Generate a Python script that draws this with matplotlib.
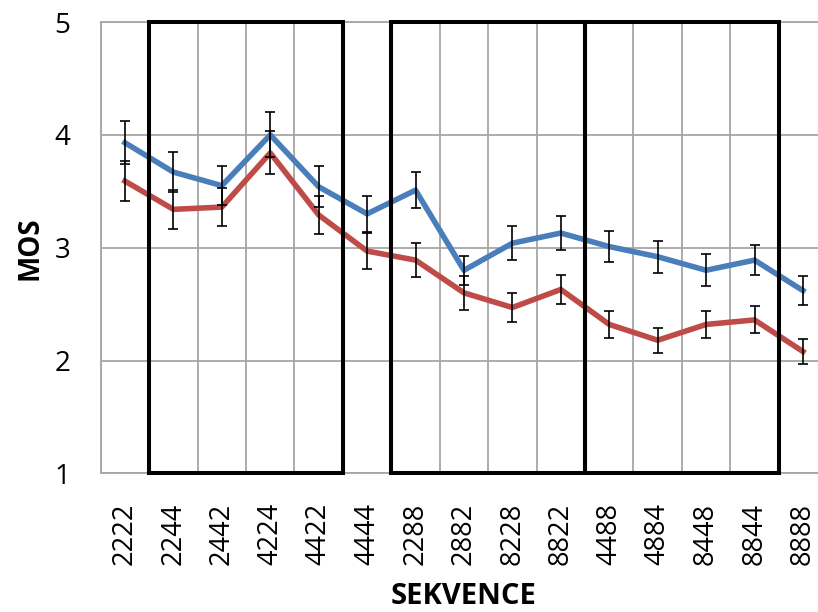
import numpy as np
import matplotlib.pyplot as plt

# sequences on the x axis
sekvence = ['2222', '2244', '2442', '4224', '4422', '4444', '2288', '2882',
            '8228', '8822', '4488', '4884', '8448', '8844', '8888']

# MOS values
mos_blue = [3.93, 3.67, 3.55, 4.00, 3.54, 3.30, 3.51, 2.80, 3.04, 3.13,
            3.01, 2.92, 2.80, 2.89, 2.62]
err_blue = [0.19, 0.18, 0.17, 0.20, 0.18, 0.16, 0.16, 0.13, 0.15, 0.15,
            0.14, 0.14, 0.14, 0.13, 0.13]
mos_red = [3.59, 3.34, 3.36, 3.84, 3.29, 2.97, 2.89, 2.60, 2.47, 2.63,
           2.32, 2.18, 2.32, 2.36, 2.08]
err_red = [0.18, 0.17, 0.17, 0.19, 0.17, 0.16, 0.15, 0.15, 0.13, 0.13,
           0.12, 0.11, 0.12, 0.12, 0.11]

# groups framed by black boxes (first, last category index)
boxes = [(1, 4), (6, 9), (10, 13)]

plt.rcParams['font.family'] = ['Open Sans', 'DejaVu Sans']

fig = plt.figure(figsize=(8.18, 6.12), dpi=100)
ax = fig.add_axes([0.1232, 0.2265, 0.888, 0.7375])

x = np.arange(len(sekvence))
blue = '#4A7EBB'
red = '#BE4B48'

ax.plot(x, mos_red, color=red, lw=4.0, zorder=3)
ax.plot(x, mos_blue, color=blue, lw=4.0, zorder=3)
ax.errorbar(x, mos_red, yerr=err_red, fmt='none', ecolor='black',
            elinewidth=1.2, capsize=3.8, capthick=1.2, zorder=4)
ax.errorbar(x, mos_blue, yerr=err_blue, fmt='none', ecolor='black',
            elinewidth=1.2, capsize=3.8, capthick=1.2, zorder=4)

for a, b in boxes:
    ax.add_patch(plt.Rectangle((a - 0.5, 1), b - a + 1, 4, fill=False,
                               edgecolor='black', lw=2.9, zorder=5,
                               clip_on=False))

ax.set_xlim(-0.5, len(sekvence) - 0.5)
ax.set_ylim(1, 5)
ax.set_yticks([1, 2, 3, 4, 5])
ax.set_xticks(x)
ax.set_xticklabels(sekvence, rotation=90, fontsize=19.5)
ax.tick_params(axis='y', labelsize=20, length=0, pad=22)
ax.tick_params(axis='x', length=0, pad=21)

# vertical grid between categories, horizontal grid at integers
for xb in np.arange(-0.5, len(sekvence), 1.0):
    ax.axvline(xb, color='#A6A6A6', lw=1.3, zorder=1)
ax.yaxis.grid(True, color='#A6A6A6', lw=1.3, zorder=1)
ax.set_axisbelow(True)
for s in ax.spines.values():
    s.set_color('#A6A6A6')
    s.set_linewidth(1.3)

ax.set_ylabel('MOS', fontsize=20, fontweight='bold', labelpad=7)
ax.set_xlabel('SEKVENCE', fontsize=21, fontweight='bold', labelpad=12)

fig.savefig('out.png', dpi=100)
